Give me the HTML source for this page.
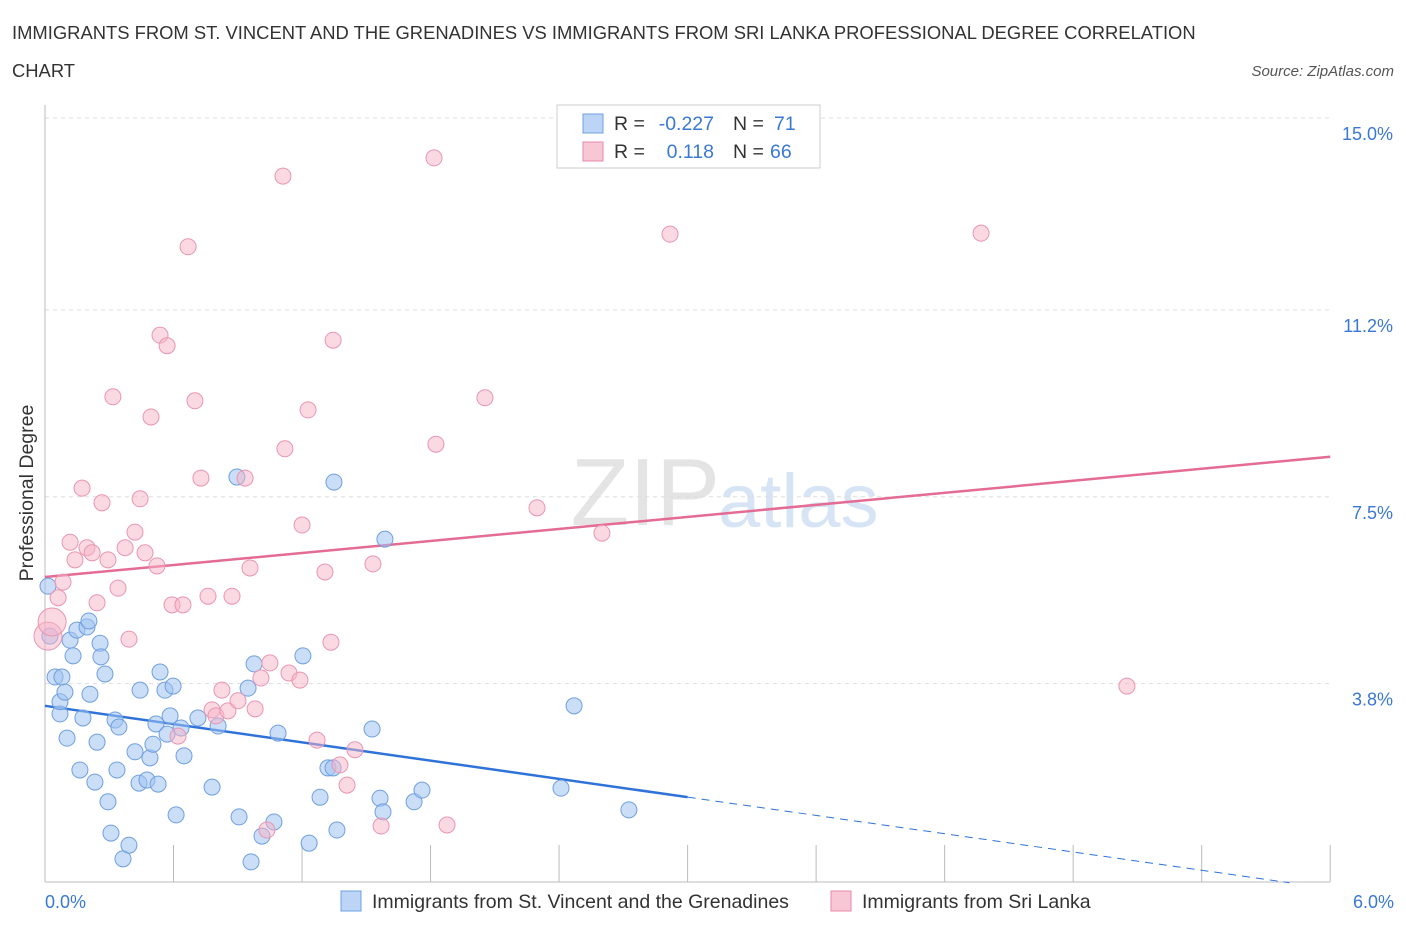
<!DOCTYPE html>
<html><head><meta charset="utf-8"><style>
body{margin:0;background:#fff;font-family:"Liberation Sans",sans-serif;}
svg text{font-family:"Liberation Sans",sans-serif;}
</style></head><body>
<svg id="chart" width="1406" height="930" xmlns="http://www.w3.org/2000/svg">
<text x="12" y="39" font-size="18.4" fill="#333">IMMIGRANTS FROM ST. VINCENT AND THE GRENADINES VS IMMIGRANTS FROM SRI LANKA PROFESSIONAL DEGREE CORRELATION</text>
<text x="12" y="77" font-size="18.4" fill="#333">CHART</text>
<text x="1394" y="76" font-size="15" fill="#555" font-style="italic" text-anchor="end">Source: ZipAtlas.com</text>
<text x="720" y="525" font-size="96" fill="#e4e4e4" font-family="Liberation Serif" text-anchor="end">ZIP</text>
<text x="718" y="527" font-size="76" fill="#d6e4f5">atlas</text>
<g id="grid"></g><g id="axes"></g><g id="trends"></g><g id="pts"></g>
<text x="33" y="493" font-size="19.5" fill="#333" transform="rotate(-90 33 493)" text-anchor="middle">Professional Degree</text>
<text x="45" y="908" font-size="18" fill="#3a78d4">0.0%</text>
<text x="1394" y="908" font-size="18" fill="#3a78d4" text-anchor="end">6.0%</text>
<g>
<rect x="557" y="105" width="263" height="63" fill="#fff" stroke="#ccc"/>
<rect x="583" y="114" width="20" height="19" fill="#bcd5f7" stroke="#6f9fe0"/>
<rect x="583" y="142" width="20" height="19" fill="#f8c7d6" stroke="#e98aaa"/>
<text x="614" y="130" font-size="19.5" fill="#333">R =</text>
<text x="714" y="130" font-size="19.5" fill="#3a78d4" text-anchor="end">-0.227</text>
<text x="733" y="130" font-size="19.5" fill="#333">N =</text>
<text x="774" y="130" font-size="19.5" fill="#3a78d4">71</text>
<text x="614" y="158" font-size="19.5" fill="#333">R =</text>
<text x="714" y="158" font-size="19.5" fill="#3a78d4" text-anchor="end">0.118</text>
<text x="733" y="158" font-size="19.5" fill="#333">N =</text>
<text x="770" y="158" font-size="19.5" fill="#3a78d4">66</text>
</g>
<g>
<rect x="341" y="891" width="20" height="20" fill="#bcd5f7" stroke="#6f9fe0"/>
<text x="372" y="908" font-size="19.5" fill="#333">Immigrants from St. Vincent and the Grenadines</text>
<rect x="831" y="891" width="20" height="20" fill="#f8c7d6" stroke="#e98aaa"/>
<text x="862" y="908" font-size="19.5" fill="#333">Immigrants from Sri Lanka</text>
</g>
</svg>
<script>
const yTicks=[15.0,11.2,7.5,3.8];
const yTickLabels=["15.0%","11.2%","7.5%","3.8%"];
const xTicks=[0,0.6,1.2,1.8,2.4,3.0,3.6,4.2,4.8,5.4,6.0];
const blueX=[0.023,0.047,0.07,0.079,0.07,0.093,0.103,0.117,0.131,0.149,0.163,0.177,0.196,0.205,0.21,0.233,0.243,0.257,0.261,0.28,0.294,0.308,0.327,0.336,0.345,0.364,0.392,0.42,0.444,0.439,0.476,0.49,0.504,0.518,0.528,0.537,0.56,0.584,0.598,0.612,0.635,0.649,0.57,0.714,0.78,0.808,0.896,0.906,0.948,0.962,0.976,1.013,1.069,1.088,1.204,1.233,1.284,1.321,1.345,1.349,1.363,1.527,1.564,1.578,1.587,1.723,1.76,2.409,2.47,2.726,0.014];
const blueY=[4.74,3.93,3.20,3.93,3.44,3.63,2.72,4.66,4.35,4.86,2.09,3.12,4.92,5.04,3.59,1.85,2.64,4.60,4.33,3.99,1.46,0.84,3.08,2.09,2.94,0.33,0.60,2.45,3.67,1.83,1.89,2.33,2.60,3.0,1.81,4.03,3.67,3.16,3.75,1.20,2.92,2.37,2.80,3.12,1.75,2.96,7.89,1.16,3.71,0.27,4.19,0.78,1.06,2.82,4.35,0.64,1.55,2.13,2.13,7.79,0.90,2.90,1.53,1.26,6.66,1.46,1.69,1.73,3.36,1.30,5.73];
const pinkX=[0.014,0.033,0.061,0.084,0.117,0.14,0.173,0.196,0.22,0.243,0.266,0.294,0.317,0.341,0.374,0.392,0.42,0.444,0.467,0.495,0.523,0.537,0.57,0.593,0.644,0.621,0.668,0.7,0.728,0.761,0.78,0.798,0.826,0.854,0.873,0.901,0.934,0.957,0.981,1.008,1.036,1.05,1.111,1.12,1.139,1.19,1.2,1.228,1.27,1.307,1.335,1.345,1.377,1.41,1.447,1.531,1.569,1.816,1.825,1.877,2.054,2.297,2.6,2.918,4.37,5.051];
const pinkY=[4.74,5.02,5.50,5.81,6.60,6.25,7.67,6.49,6.39,5.40,7.38,6.25,9.48,5.69,6.49,4.68,6.80,7.46,6.39,9.08,6.13,10.70,10.49,5.36,5.36,2.76,12.45,9.40,7.87,5.53,3.28,3.16,3.67,3.26,5.53,3.46,7.87,6.09,3.30,3.91,0.90,4.21,13.85,8.45,4.01,3.87,6.94,9.22,2.68,6.01,4.62,10.60,2.19,1.79,2.49,6.17,0.98,14.21,8.54,1.0,9.46,7.28,6.78,12.70,12.72,3.75];
const blueTrend=[3.36,-0.603];
const pinkTrend=[5.91,0.397];
const X=v=>45+v*214.2, Y=v=>118+(15-v)*50.5;
const NS="http://www.w3.org/2000/svg";
function mk(tag,attrs,parent){const e=document.createElementNS(NS,tag);for(const k in attrs)e.setAttribute(k,attrs[k]);document.getElementById(parent).appendChild(e);return e;}
yTicks.forEach((t,i)=>{
 const l=mk('line',{x1:45,x2:1330,y1:Y(t),y2:Y(t),stroke:'#ddd','stroke-dasharray':'4,4'},'grid');
 
 
 const tx=mk('text',{x:1393,y:Y(t)+22,'font-size':18,fill:'#3a78d4','text-anchor':'end'},'grid');
 tx.textContent=yTickLabels[i];
 
 
});
const ax=mk('line',{x1:45,x2:45,y1:105,y2:882,stroke:'#bbb'},'axes');


const bx=mk('line',{x1:45,x2:1330,y1:882,y2:882,stroke:'#bbb'},'axes');


xTicks.forEach(t=>{
 const l=mk('line',{x1:X(t),x2:X(t),y1:845,y2:882,stroke:'#bbb'},'axes');
 
 
});
blueX.forEach((x,i)=>{
 const c=mk('circle',{cx:X(x),cy:Y(blueY[i]),r:8,fill:'rgba(160,195,240,0.55)',stroke:'#6f9fe0','stroke-width':1},'pts');
 
 
});
pinkX.forEach((x,i)=>{
 const c=mk('circle',{cx:X(x),cy:Y(pinkY[i]),r:i<2?14:8,fill:'rgba(245,180,200,0.5)',stroke:'#ea95b2','stroke-width':1},'pts');
 
 
});
const bEnd=3.0, bDash=5.81;
const b1=mk('line',{x1:X(0),y1:Y(blueTrend[0]),x2:X(bEnd),y2:Y(blueTrend[0]+blueTrend[1]*bEnd),stroke:'#2f73d9','stroke-width':2.5},'trends');


const b2=mk('line',{x1:X(bEnd),y1:Y(blueTrend[0]+blueTrend[1]*bEnd),x2:X(bDash),y2:Y(blueTrend[0]+blueTrend[1]*bDash),stroke:'#2f73d9','stroke-width':1,'stroke-dasharray':'8,6'},'trends');


const p1=mk('line',{x1:X(0),y1:Y(pinkTrend[0]),x2:X(6),y2:Y(pinkTrend[0]+pinkTrend[1]*6),stroke:'#e46b93','stroke-width':2.5},'trends');


</script>
</body></html>
